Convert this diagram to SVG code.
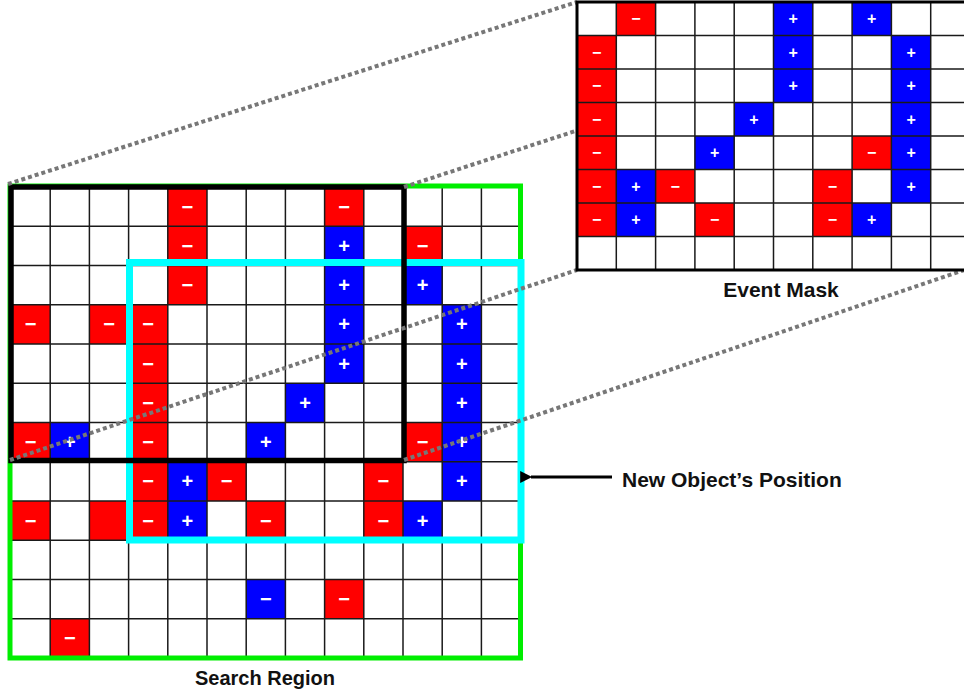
<svg xmlns="http://www.w3.org/2000/svg" width="964" height="696" viewBox="0 0 964 696">
<style>
.r{fill:#ff0000}
.b{fill:#0000ff}
.s{fill:#ffffff;font-family:"Liberation Sans",Arial,sans-serif;font-weight:bold;font-size:20px;text-anchor:middle}
.ms{fill:#ffffff;font-family:"Liberation Sans",Arial,sans-serif;font-weight:bold;font-size:16px;text-anchor:middle}
.gl{fill:none;stroke:#1a1a1a;stroke-width:1.5}
.lbl{fill:#111;font-family:"Liberation Sans",Arial,sans-serif;font-weight:bold;font-size:20px}
.dot{fill:none;stroke:#777777;stroke-width:4;stroke-dasharray:4 3}
</style>
<defs>
<marker id="ah" viewBox="0 0 10 10" refX="1" refY="5" markerWidth="4.5" markerHeight="4" orient="auto-start-reverse" markerUnits="strokeWidth">
<path d="M0,5 L10,0 L10,10 Z" fill="#000"/>
</marker>
</defs>
<rect width="964" height="696" fill="#ffffff"/>

<g id="search-grid">
<g id="main-cells">
<rect class="r" x="167.8" y="187" width="39.2" height="39.25"/>
<rect class="r" x="324.6" y="187" width="39.2" height="39.25"/>
<rect class="r" x="167.8" y="226.25" width="39.2" height="39.25"/>
<rect class="b" x="324.6" y="226.25" width="39.2" height="39.25"/>
<rect class="r" x="403" y="226.25" width="39.2" height="39.25"/>
<rect class="r" x="167.8" y="265.5" width="39.2" height="39.25"/>
<rect class="b" x="324.6" y="265.5" width="39.2" height="39.25"/>
<rect class="b" x="403" y="265.5" width="39.2" height="39.25"/>
<rect class="r" x="11" y="304.75" width="39.2" height="39.25"/>
<rect class="r" x="89.4" y="304.75" width="39.2" height="39.25"/>
<rect class="r" x="128.6" y="304.75" width="39.2" height="39.25"/>
<rect class="b" x="324.6" y="304.75" width="39.2" height="39.25"/>
<rect class="b" x="442.2" y="304.75" width="39.2" height="39.25"/>
<rect class="r" x="128.6" y="344" width="39.2" height="39.25"/>
<rect class="b" x="324.6" y="344" width="39.2" height="39.25"/>
<rect class="b" x="442.2" y="344" width="39.2" height="39.25"/>
<rect class="r" x="128.6" y="383.25" width="39.2" height="39.25"/>
<rect class="b" x="285.4" y="383.25" width="39.2" height="39.25"/>
<rect class="b" x="442.2" y="383.25" width="39.2" height="39.25"/>
<rect class="r" x="11" y="422.5" width="39.2" height="39.25"/>
<rect class="b" x="50.2" y="422.5" width="39.2" height="39.25"/>
<rect class="r" x="128.6" y="422.5" width="39.2" height="39.25"/>
<rect class="b" x="246.2" y="422.5" width="39.2" height="39.25"/>
<rect class="r" x="403" y="422.5" width="39.2" height="39.25"/>
<rect class="b" x="442.2" y="422.5" width="39.2" height="39.25"/>
<rect class="r" x="128.6" y="461.75" width="39.2" height="39.25"/>
<rect class="b" x="167.8" y="461.75" width="39.2" height="39.25"/>
<rect class="r" x="207" y="461.75" width="39.2" height="39.25"/>
<rect class="r" x="363.8" y="461.75" width="39.2" height="39.25"/>
<rect class="b" x="442.2" y="461.75" width="39.2" height="39.25"/>
<rect class="r" x="11" y="501" width="39.2" height="39.25"/>
<rect class="r" x="89.4" y="501" width="39.2" height="39.25"/>
<rect class="r" x="128.6" y="501" width="39.2" height="39.25"/>
<rect class="b" x="167.8" y="501" width="39.2" height="39.25"/>
<rect class="r" x="246.2" y="501" width="39.2" height="39.25"/>
<rect class="r" x="363.8" y="501" width="39.2" height="39.25"/>
<rect class="b" x="403" y="501" width="39.2" height="39.25"/>
<rect class="b" x="246.2" y="579.5" width="39.2" height="39.25"/>
<rect class="r" x="324.6" y="579.5" width="39.2" height="39.25"/>
<rect class="r" x="50.2" y="618.75" width="39.2" height="39.25"/>
</g>
<path class="gl" d="M11,187V658M50.2,187V658M89.4,187V658M128.6,187V658M167.8,187V658M207,187V658M246.2,187V658M285.4,187V658M324.6,187V658M363.8,187V658M403,187V658M442.2,187V658M481.4,187V658M520.6,187V658M11,187H520.6M11,226.25H520.6M11,265.5H520.6M11,304.75H520.6M11,344H520.6M11,383.25H520.6M11,422.5H520.6M11,461.75H520.6M11,501H520.6M11,540.25H520.6M11,579.5H520.6M11,618.75H520.6M11,658H520.6"/>
<g id="main-symbols">
<text class="s" x="187.4" y="213.6">−</text>
<text class="s" x="344.2" y="213.6">−</text>
<text class="s" x="187.4" y="252.85">−</text>
<text class="s" x="344.2" y="252.85">+</text>
<text class="s" x="422.6" y="252.85">−</text>
<text class="s" x="187.4" y="292.1">−</text>
<text class="s" x="344.2" y="292.1">+</text>
<text class="s" x="422.6" y="292.1">+</text>
<text class="s" x="30.6" y="331.35">−</text>
<text class="s" x="109" y="331.35">−</text>
<text class="s" x="148.2" y="331.35">−</text>
<text class="s" x="344.2" y="331.35">+</text>
<text class="s" x="461.8" y="331.35">+</text>
<text class="s" x="148.2" y="370.6">−</text>
<text class="s" x="344.2" y="370.6">+</text>
<text class="s" x="461.8" y="370.6">+</text>
<text class="s" x="148.2" y="409.85">−</text>
<text class="s" x="305" y="409.85">+</text>
<text class="s" x="461.8" y="409.85">+</text>
<text class="s" x="30.6" y="449.1">−</text>
<text class="s" x="69.8" y="449.1">+</text>
<text class="s" x="148.2" y="449.1">−</text>
<text class="s" x="265.8" y="449.1">+</text>
<text class="s" x="422.6" y="449.1">−</text>
<text class="s" x="461.8" y="449.1">+</text>
<text class="s" x="148.2" y="488.35">−</text>
<text class="s" x="187.4" y="488.35">+</text>
<text class="s" x="226.6" y="488.35">−</text>
<text class="s" x="383.4" y="488.35">−</text>
<text class="s" x="461.8" y="488.35">+</text>
<text class="s" x="30.6" y="527.6">−</text>
<text class="s" x="148.2" y="527.6">−</text>
<text class="s" x="187.4" y="527.6">+</text>
<text class="s" x="265.8" y="527.6">−</text>
<text class="s" x="383.4" y="527.6">−</text>
<text class="s" x="422.6" y="527.6">+</text>
<text class="s" x="265.8" y="606.1">−</text>
<text class="s" x="344.2" y="606.1">−</text>
<text class="s" x="69.8" y="645.35">−</text>
</g>
</g>

<g id="search-region">
<rect x="10" y="186" width="510.5" height="472" fill="none" stroke="#00ee00" stroke-width="5"/>
</g>
<g id="new-position">
<rect x="129.5" y="262.5" width="391.5" height="277.5" fill="none" stroke="#00ffff" stroke-width="7"/>
</g>
<g id="old-position">
<rect x="11" y="187" width="393" height="273.5" fill="none" stroke="#000000" stroke-width="5.5"/>
</g>

<g id="connectors">
<path class="dot" d="M8,184L577,2"/>
<path class="dot" d="M404,187L970,2"/>
<path class="dot" d="M10,460L577,270"/>
<path class="dot" d="M404,460L970,268"/>
<path d="M612,477H531" fill="none" stroke="#000" stroke-width="3" marker-end="url(#ah)"/>
</g>

<g id="event-mask">
<rect x="577" y="2" width="393" height="268" fill="#ffffff"/>
<g id="mask-cells">
<rect class="r" x="616.3" y="2" width="39.3" height="33.5"/>
<rect class="b" x="773.5" y="2" width="39.3" height="33.5"/>
<rect class="b" x="852.1" y="2" width="39.3" height="33.5"/>
<rect class="r" x="577" y="35.5" width="39.3" height="33.5"/>
<rect class="b" x="773.5" y="35.5" width="39.3" height="33.5"/>
<rect class="b" x="891.4" y="35.5" width="39.3" height="33.5"/>
<rect class="r" x="577" y="69" width="39.3" height="33.5"/>
<rect class="b" x="773.5" y="69" width="39.3" height="33.5"/>
<rect class="b" x="891.4" y="69" width="39.3" height="33.5"/>
<rect class="r" x="577" y="102.5" width="39.3" height="33.5"/>
<rect class="b" x="734.2" y="102.5" width="39.3" height="33.5"/>
<rect class="b" x="891.4" y="102.5" width="39.3" height="33.5"/>
<rect class="r" x="577" y="136" width="39.3" height="33.5"/>
<rect class="b" x="694.9" y="136" width="39.3" height="33.5"/>
<rect class="r" x="852.1" y="136" width="39.3" height="33.5"/>
<rect class="b" x="891.4" y="136" width="39.3" height="33.5"/>
<rect class="r" x="577" y="169.5" width="39.3" height="33.5"/>
<rect class="b" x="616.3" y="169.5" width="39.3" height="33.5"/>
<rect class="r" x="655.6" y="169.5" width="39.3" height="33.5"/>
<rect class="r" x="812.8" y="169.5" width="39.3" height="33.5"/>
<rect class="b" x="891.4" y="169.5" width="39.3" height="33.5"/>
<rect class="r" x="577" y="203" width="39.3" height="33.5"/>
<rect class="b" x="616.3" y="203" width="39.3" height="33.5"/>
<rect class="r" x="694.9" y="203" width="39.3" height="33.5"/>
<rect class="r" x="812.8" y="203" width="39.3" height="33.5"/>
<rect class="b" x="852.1" y="203" width="39.3" height="33.5"/>
</g>
<path class="gl" stroke-width="1.3" d="M616.3,2V270M655.6,2V270M694.9,2V270M734.2,2V270M773.5,2V270M812.8,2V270M852.1,2V270M891.4,2V270M930.7,2V270M577,35.5H970M577,69H970M577,102.5H970M577,136H970M577,169.5H970M577,203H970M577,236.5H970"/>
<path d="M970,2H577V270H970" fill="none" stroke="#000" stroke-width="3"/>
<g id="mask-symbols">
<text class="ms" x="635.95" y="24">−</text>
<text class="ms" x="793.15" y="24">+</text>
<text class="ms" x="871.75" y="24">+</text>
<text class="ms" x="596.65" y="57.5">−</text>
<text class="ms" x="793.15" y="57.5">+</text>
<text class="ms" x="911.05" y="57.5">+</text>
<text class="ms" x="596.65" y="91">−</text>
<text class="ms" x="793.15" y="91">+</text>
<text class="ms" x="911.05" y="91">+</text>
<text class="ms" x="596.65" y="124.5">−</text>
<text class="ms" x="753.85" y="124.5">+</text>
<text class="ms" x="911.05" y="124.5">+</text>
<text class="ms" x="596.65" y="158">−</text>
<text class="ms" x="714.55" y="158">+</text>
<text class="ms" x="871.75" y="158">−</text>
<text class="ms" x="911.05" y="158">+</text>
<text class="ms" x="596.65" y="191.5">−</text>
<text class="ms" x="635.95" y="191.5">+</text>
<text class="ms" x="675.25" y="191.5">−</text>
<text class="ms" x="832.45" y="191.5">−</text>
<text class="ms" x="911.05" y="191.5">+</text>
<text class="ms" x="596.65" y="225">−</text>
<text class="ms" x="635.95" y="225">+</text>
<text class="ms" x="714.55" y="225">−</text>
<text class="ms" x="832.45" y="225">−</text>
<text class="ms" x="871.75" y="225">+</text>
</g>
</g>

<g id="labels">
<text class="lbl" x="265" y="685" text-anchor="middle">Search Region</text>
<text class="lbl" x="781" y="297" text-anchor="middle" style="font-size:21px">Event Mask</text>
<text class="lbl" x="622" y="487" style="font-size:21px">New Object’s Position</text>
</g>
</svg>
